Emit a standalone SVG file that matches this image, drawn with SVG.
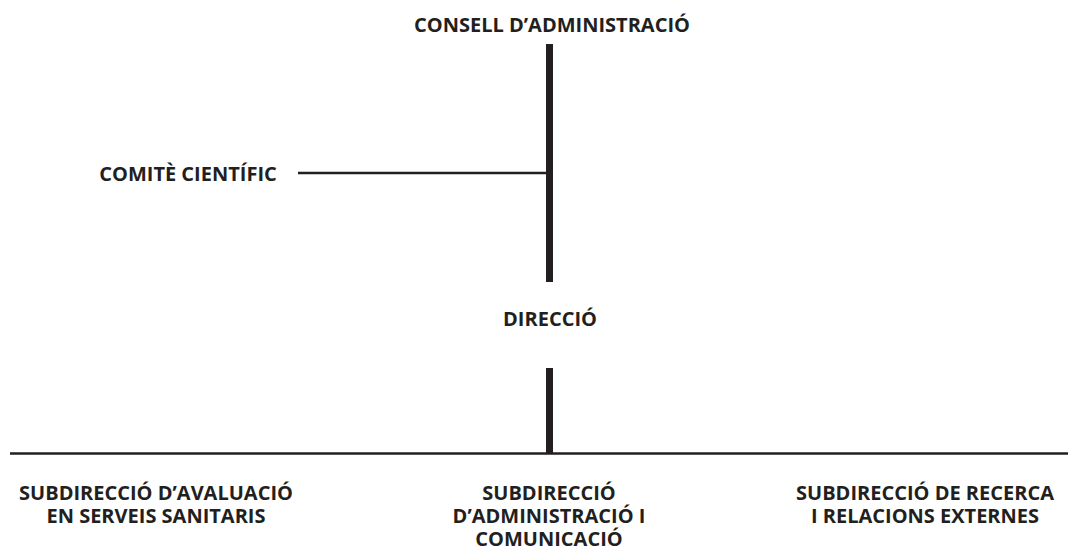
<svg xmlns="http://www.w3.org/2000/svg" width="1081" height="554" viewBox="0 0 1081 554">
<style>
text{font-family:"Open Sans","Noto Sans","DejaVu Sans",sans-serif;font-weight:bold;font-size:20px;fill:#231f20;text-anchor:middle}
.thick{stroke:#231f20;stroke-width:7;fill:none}
.thin{stroke:#231f20;stroke-width:2.5;fill:none}
</style>
<rect width="1081" height="554" fill="#fff"/>
<g id="connectors">
<line class="thick" x1="549.5" y1="44" x2="549.5" y2="282"/>
<line class="thin" x1="298" y1="173" x2="549" y2="173"/>
<line class="thick" x1="549.5" y1="368" x2="549.5" y2="453"/>
<line class="thin" x1="10" y1="453.5" x2="1068" y2="453.5"/>
</g>
<g id="consell"><text x="552" y="32">CONSELL D’ADMINISTRACIÓ</text></g>
<g id="comite"><text x="188" y="181">COMITÈ CIENTÍFIC</text></g>
<g id="direccio"><text x="550" y="326">DIRECCIÓ</text></g>
<g id="sub-avaluacio"><text x="156" y="500">SUBDIRECCIÓ D’AVALUACIÓ</text><text x="156" y="523">EN SERVEIS SANITARIS</text></g>
<g id="sub-administracio"><text x="549" y="500">SUBDIRECCIÓ</text><text x="549" y="523">D’ADMINISTRACIÓ I</text><text x="549" y="546">COMUNICACIÓ</text></g>
<g id="sub-recerca"><text x="925" y="500">SUBDIRECCIÓ DE RECERCA</text><text x="925" y="523">I RELACIONS EXTERNES</text></g>
</svg>
